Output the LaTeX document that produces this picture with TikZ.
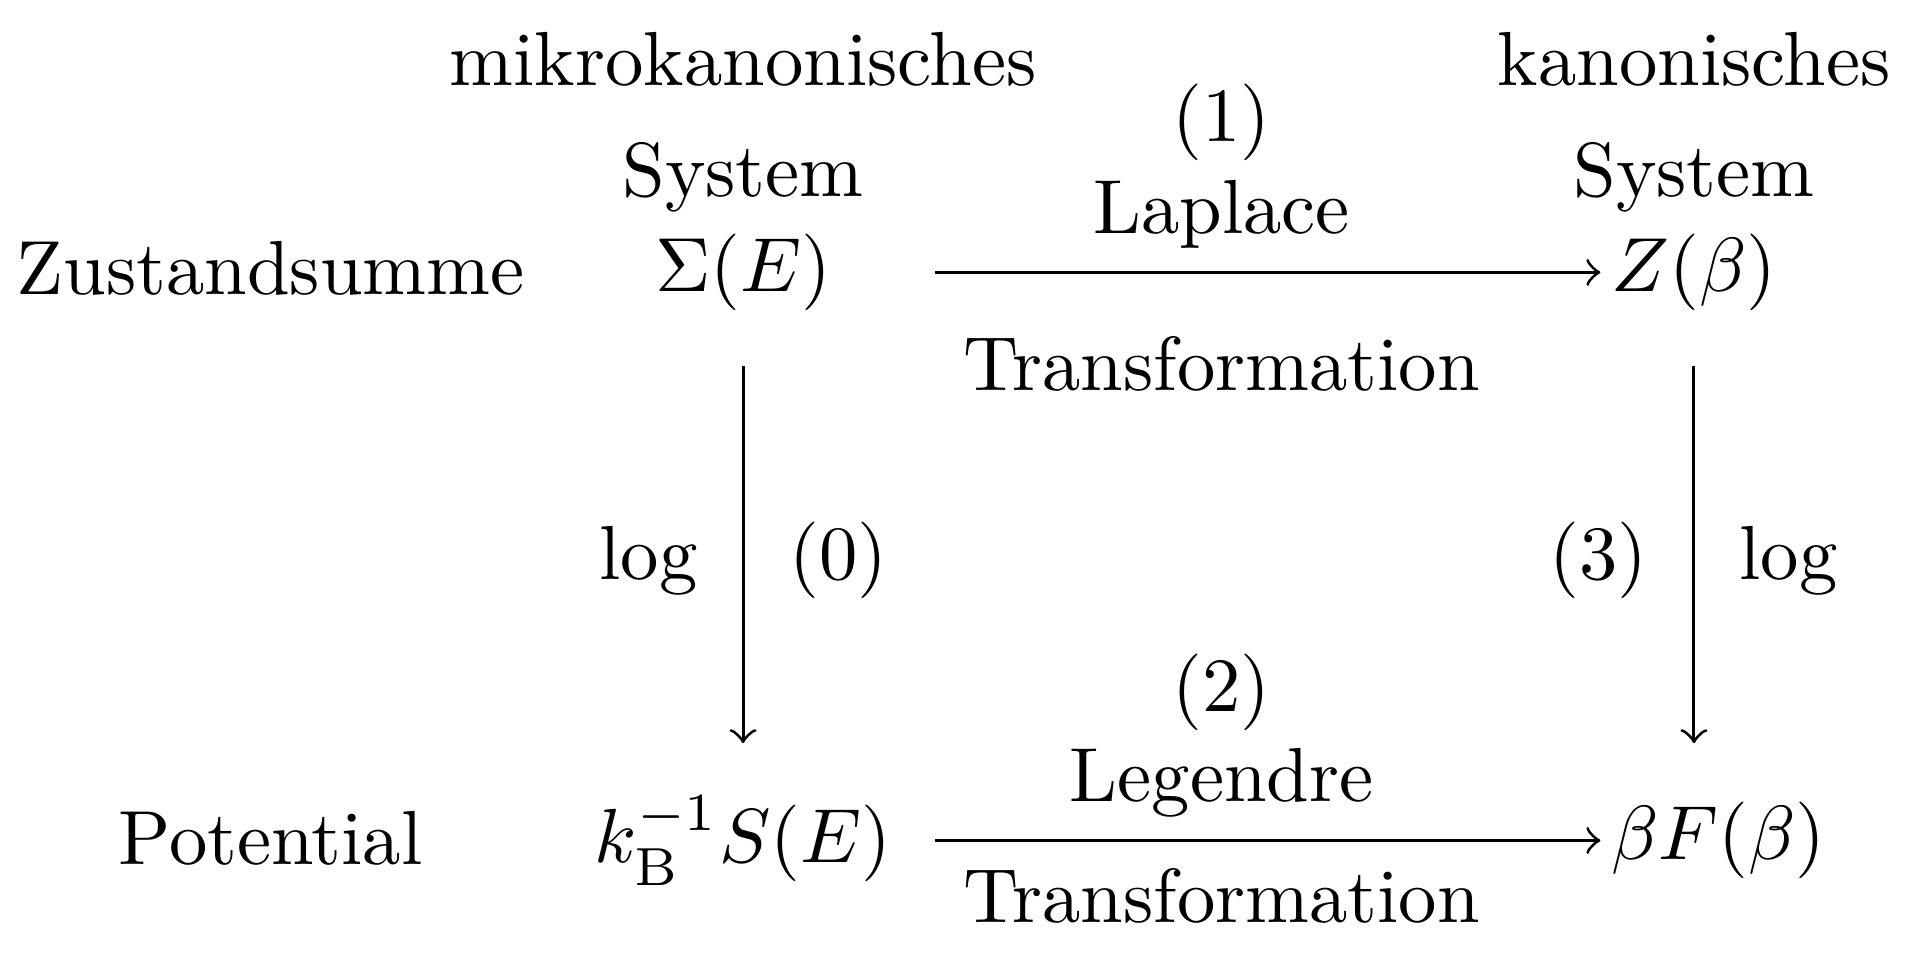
\documentclass[tikz,border=0pt]{standalone}
\begin{document}
\begin{tikzpicture}[x=0.16pt,y=-0.16pt,
  lbl/.style={inner sep=0pt,anchor=base},
  obj/.style={inner sep=0pt},
  arr/.style={->,line width=0.4pt}]
\useasboundingbox (0,0) rectangle (1560,785);
\begin{scope}[xshift=-0.7pt]
% column labels
\node[lbl] (mk) at (610,70) {mikrokanonisches};
\node[lbl] (sys1) at (610,160) {System};
\node[lbl] (kan) at (1385,70) {kanonisches};
\node[lbl] (sys2) at (1385,160) {System};
% row labels
\node[lbl] (zs) at (225,240) {Zustandsumme};
\node[lbl] (pot) at (225,705) {Potential};
% objects
\node[obj,minimum width=49.6pt,minimum height=24pt] (sig) at (610,222) {$\Sigma(E)$};
\node[obj,minimum width=24pt,minimum height=24pt] (zb) at (1385,222) {$Z(\beta)$};
\node[obj,minimum width=49.6pt,minimum height=24.96pt] (ks) at (610,685) {$k_{\mathrm{B}}^{-1}S(E)$};
\node[obj,minimum width=30.4pt,minimum height=24.96pt] (bf) at (1405,685) {$\beta F(\beta)$};
% arrows
\draw[arr] (sig.east) -- (zb.west);
\draw[arr] (ks.east) -- (bf.west);
\draw[arr] (sig.south) -- (ks.north);
\draw[arr] (zb.south) -- (zb.south |- bf.north);
% arrow labels
\node[lbl] (n1) at (1000,115) {(1)};
\node[lbl] (lap) at (1000,190) {Laplace};
\node[lbl] (tr1) at (1000,318) {Transformation};
\node[lbl] (n2) at (1000,580) {(2)};
\node[lbl] (leg) at (1000,653) {Legendre};
\node[lbl] (tr2) at (1000,752) {Transformation};
\node[lbl] (log1) at (533,472) {log};
\node[lbl] (n0) at (688,472) {(0)};
\node[lbl] (n3) at (1307,472) {(3)};
\node[lbl] (log2) at (1462,472) {log};
\end{scope}
\end{tikzpicture}
\end{document}
